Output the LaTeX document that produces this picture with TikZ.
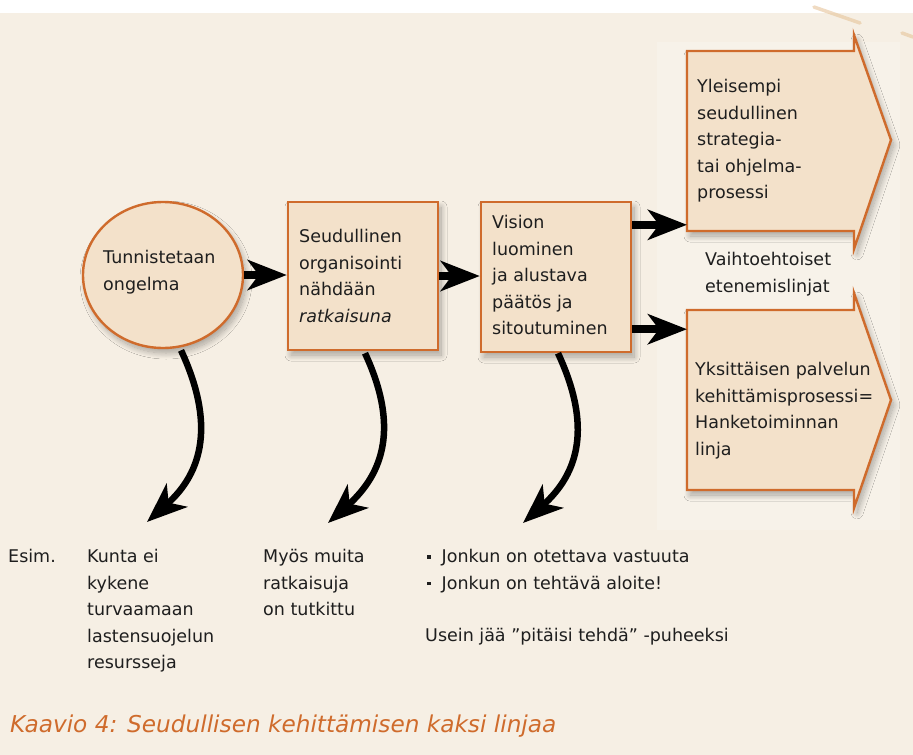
\documentclass[tikz,border=0pt]{standalone}
\usepackage{fontspec}
\setmainfont{DejaVu Sans}
\usetikzlibrary{arrows.meta,shapes.geometric,shadows.blur,calc}

\definecolor{paper}{HTML}{F6EFE4}
\definecolor{paperlight}{HTML}{F7F2E9}
\definecolor{panel}{HTML}{F3E1CA}
\definecolor{rim}{HTML}{CF6B2C}
\definecolor{brushtan}{HTML}{E6C49A}
\definecolor{ink}{HTML}{1E1E1E}

\begin{document}
\begin{tikzpicture}[x=1pt,y=-1pt,
  txt/.style={font=\fontsize{17.5}{26.6}\selectfont, align=left, inner sep=0pt,
              anchor=north west, text=ink},
  shade box/.style={draw=rim, line width=2.4pt, fill=panel,
              blur shadow={shadow xshift=3pt, shadow yshift=-5pt,
                           shadow blur radius=6pt, shadow blur steps=14,
                           shadow opacity=32}},
  flat arrow/.style={-{Stealth[length=39pt,width=30pt,inset=11pt]},
              line width=7.5pt, draw=black},
  bend arrow/.style={-{Stealth[length=40pt,width=31pt,inset=11pt]},
              line width=6.5pt, draw=black},
  brush/.style={draw=brushtan, line width=3.5pt, line cap=round, opacity=0.6},
]
% page and background
\useasboundingbox (0,0) rectangle (913,755);
\fill[white] (0,0) rectangle (913,13);
\fill[paper] (0,13) rectangle (913,755);
\fill[paperlight] (657,42) rectangle (900,530);
\draw[brush] (814,7) -- (860,23);
\draw[brush] (902,33) -- (913,37);

% main chain
\node[shade box, ellipse, minimum width=160pt, minimum height=146pt, inner sep=0pt]
  (prob) at (163,275) {};
\node[txt] (probtxt) at (103,250) {Tunnistetaan\\ongelma};

\node[shade box, rectangle, minimum width=150pt, minimum height=148pt, inner sep=0pt]
  (org) at (363,276) {};
\node[txt] (orgtxt) at (299,229) {Seudullinen\\organisointi\\nähdään\\\textit{ratkaisuna}};

\node[shade box, rectangle, minimum width=150pt, minimum height=150pt, inner sep=0pt]
  (vis) at (556,277) {};
\node[txt] (vistxt) at (492,215) {Vision\\luominen\\ja alustava\\päätös ja\\sitoutuminen};

% the two alternative lines
\path[shade box] (687,51) -- (854,51) -- (854,35) -- (891,140) -- (854,249)
  -- (854,231) -- (687,231) -- cycle;
\coordinate (strat) at (687,141);
\node[txt] (strattxt) at (697,79) {Yleisempi\\seudullinen\\strategia-\\tai ohjelma-\\prosessi};

\path[shade box] (687,310) -- (854,310) -- (854,293) -- (891,400) -- (854,508)
  -- (854,490) -- (687,490) -- cycle;
\coordinate (proj) at (687,400);
\node[txt] (projtxt) at (695,362) {Yksittäisen palvelun\\kehittämisprosessi=\\Hanketoiminnan\\linja};

\node[txt] (alt) at (705,252) {Vaihtoehtoiset\\etenemislinjat};

% forward arrows
\draw[flat arrow] (prob.east) -- (prob.east -| org.west);
\draw[flat arrow] (org.east) -- (org.east -| vis.west);
\draw[flat arrow] ([yshift=-24pt]vis.north east) -- ([yshift=-24pt]vis.north east -| strat);
\draw[flat arrow] ([yshift=24pt]vis.south east) -- ([yshift=24pt]vis.south east -| proj);

% consequences
\coordinate (e1) at (147,522);
\coordinate (e2) at (328,523);
\coordinate (e3) at (523,523);
\draw[bend arrow] ([yshift=-3pt]prob.-76) .. controls +(34,73) and +(56,-50) .. (e1);
\draw[bend arrow] ([xshift=2pt,yshift=-2pt]org.south) .. controls +(34,73) and +(56,-50) .. (e2);
\draw[bend arrow] ([xshift=2pt]vis.south) .. controls +(34,73) and +(56,-50) .. (e3);

\node[txt] (esim) at (8,549) {Esim.};
\node[txt] (kunta) at (87,549) {Kunta ei\\kykene\\turvaamaan\\lastensuojelun\\resursseja};
\node[txt] (muita) at (263,549) {Myös muita\\ratkaisuja\\on tutkittu};
\node[txt] (bullets) at (427,549)
  {\raisebox{4pt}{\rule{3.5pt}{3.5pt}}\hspace{11pt}Jonkun on otettava vastuuta\\
   \raisebox{4pt}{\rule{3.5pt}{3.5pt}}\hspace{11pt}Jonkun on tehtävä aloite!};
\node[txt] (usein) at (425,628) {Usein jää ”pitäisi tehdä” -puheeksi};

% caption
\node[anchor=base west, inner sep=0pt, text=rim,
      font=\fontsize{23.2}{28}\selectfont\itshape] (caption) at (10,732)
  {Kaavio 4: Seudullisen kehittämisen kaksi linjaa};
\end{tikzpicture}
\end{document}
